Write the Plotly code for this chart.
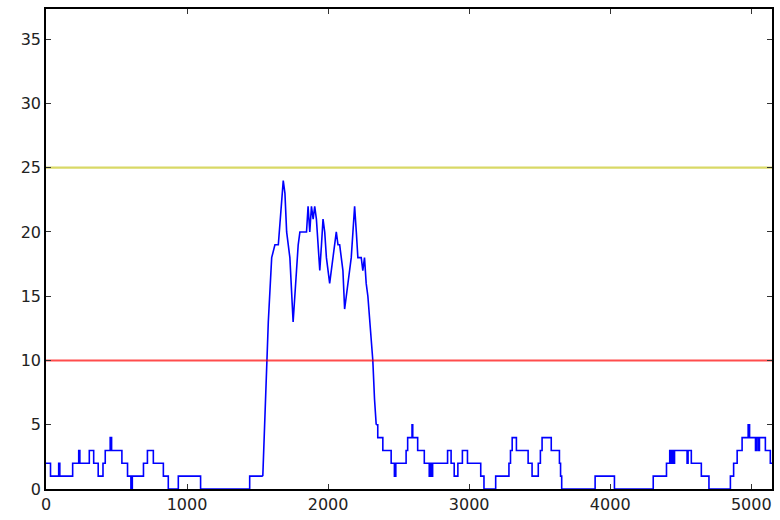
import plotly.graph_objects as go

# Quiet period before the burst: sample index where the count changes, and the new count
left_idx = [0, 32, 90, 98, 189, 232, 240, 307, 338, 370, 404, 420, 455, 465, 538, 578,
            602, 612, 691, 719, 761, 832, 867, 938, 1096, 1444, 1537]
left_count = [2, 1, 2, 1, 2, 3, 2, 3, 2, 1, 2, 3, 4, 3, 2, 1,
              0, 1, 2, 3, 2, 1, 0, 1, 0, 1, 1]

# The burst: count sampled along the trace
burst_idx = [1537, 1562, 1576, 1600, 1623, 1647, 1670, 1682, 1694, 1706, 1729, 1752, 1776,
             1788, 1800, 1835, 1847, 1858, 1870, 1882, 1894, 1905, 1917, 1929, 1941, 1953,
             1964, 1976, 1988, 2011, 2023, 2035, 2058, 2070, 2082, 2105, 2117, 2129, 2141,
             2152, 2164, 2176, 2188, 2200, 2211, 2235, 2246, 2258, 2270, 2282, 2294, 2317,
             2329, 2341]
burst_count = [1, 9, 13, 18, 19, 19, 22, 24, 23, 20, 18, 13, 17,
               19, 20, 20, 20, 22, 20, 22, 21, 22, 21, 19, 17, 19,
               21, 20, 18, 16, 17, 18, 20, 19, 19, 17, 14, 15, 16,
               17, 18, 20, 22, 20, 18, 18, 17, 18, 16, 15, 13, 10,
               7, 5]

# Quiet period after the burst: sample index where the count changes, and the new count
right_idx = [2341, 2352, 2388, 2447, 2470, 2480, 2553, 2564, 2576, 2595, 2600, 2635, 2682,
             2717, 2724, 2731, 2741, 2847, 2872, 2894, 2920, 2952, 2988, 3082, 3105, 3188,
             3282, 3293, 3305, 3335, 3418, 3446, 3490, 3505, 3517, 3582, 3640, 3648, 3656,
             3893, 4030, 4305, 4399, 4422, 4430, 4440, 4448, 4456, 4545, 4552, 4564, 4575,
             4646, 4700, 4852, 4875, 4900, 4935, 4978, 4988, 5030, 5038, 5050, 5058, 5100,
             5135, 5147]
right_count = [5, 4, 3, 2, 1, 2, 3, 4, 4, 5, 4, 3, 2,
               1, 2, 1, 2, 3, 2, 1, 2, 3, 2, 1, 0, 1,
               2, 3, 4, 3, 2, 1, 2, 3, 4, 3, 2, 1, 0,
               1, 0, 1, 2, 3, 2, 3, 2, 3, 2, 3, 3, 2,
               1, 0, 1, 2, 3, 4, 5, 4, 3, 4, 3, 4, 3,
               2, 2]

lower_threshold = 10
upper_threshold = 25
x_ticks = [0, 1000, 2000, 3000, 4000, 5000]
y_ticks = [0, 5, 10, 15, 20, 25, 30, 35]

blue = dict(color="#0000ff", width=1.6)
fig = go.Figure()
fig.add_trace(go.Scatter(x=left_idx, y=left_count, mode="lines", line_shape="hv",
                         line=blue, showlegend=False))
fig.add_trace(go.Scatter(x=burst_idx, y=burst_count, mode="lines", line_shape="linear",
                         line=blue, showlegend=False))
fig.add_trace(go.Scatter(x=right_idx, y=right_count, mode="lines", line_shape="hv",
                         line=blue, showlegend=False))
fig.add_trace(go.Scatter(x=[0, right_idx[-1]], y=[upper_threshold] * 2, mode="lines",
                         line=dict(color="rgba(191,191,0,0.6)", width=2.2), showlegend=False))
fig.add_trace(go.Scatter(x=[0, right_idx[-1]], y=[lower_threshold] * 2, mode="lines",
                         line=dict(color="rgba(255,0,0,0.7)", width=2), showlegend=False))

axis_common = dict(showgrid=False, zeroline=False, showline=True, linecolor="#000000",
                   linewidth=1.5, mirror="ticks", ticks="inside", ticklen=5, tickwidth=1,
                   tickcolor="#333333",
                   tickfont=dict(family="DejaVu Sans", size=16, color="#222222"))
fig.update_xaxes(range=[0, 5147], tickvals=x_ticks, ticktext=[str(v) for v in x_ticks],
                 **axis_common)
fig.update_yaxes(range=[0, 37.35], tickvals=y_ticks, ticktext=[str(v) for v in y_ticks],
                 **axis_common)
fig.update_layout(width=780, height=520, margin=dict(l=46, r=6, t=9, b=27),
                  paper_bgcolor="white", plot_bgcolor="white")
fig.write_html("out.html")
